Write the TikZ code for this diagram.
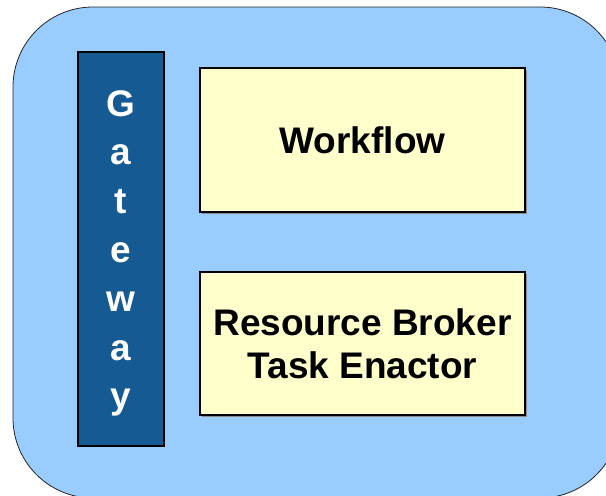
\documentclass[tikz,border=0pt]{standalone}
\usepackage{fontspec}
\setmainfont{Liberation Sans}
\definecolor{panelblue}{HTML}{99CCFF}
\definecolor{gateblue}{HTML}{155A93}
\definecolor{boxyellow}{HTML}{FFFFCC}
\begin{document}
\begin{tikzpicture}[x=1pt,y=-1pt,
  panel/.style={draw=black!85,line width=0.8pt,fill=panelblue,rounded corners=80pt},
  gatebox/.style={draw=black,line width=2pt,fill=gateblue,inner sep=0pt},
  gateletter/.style={text=white,font=\fontsize{37}{40}\selectfont\bfseries,anchor=base,inner sep=0pt},
  compbox/.style={draw=black,line width=2pt,fill=boxyellow,inner sep=0pt,
    font=\fontsize{37}{43}\selectfont\bfseries,align=center},
  boxshadow/.style={fill=black!45}
]
\useasboundingbox (0,0) rectangle (606,496);
% outer panel, partly running off the page
\draw[panel] (13,7) rectangle (620,498);

% gateway column
\node[gatebox,minimum width=86pt,minimum height=394pt] (gateway) at (121,249) {};
\foreach \ch [count=\i] in {G,a,t,e,w,a,y}{
  \node[gateletter] (gl\i) at (121,{116+(\i-1)*48.8}) {\ch};
}

% component boxes with a faint drop shadow
\fill[boxshadow] (202,70) rectangle (527,214);
\node[compbox,minimum width=325pt,minimum height=144pt] (workflow) at (362.5,140) {Workflow};
\fill[boxshadow] (202,274) rectangle (527,417);
\node[compbox,minimum width=325pt,minimum height=143pt] (broker) at (362.5,343.5) {Resource Broker\\Task Enactor};
\end{tikzpicture}
\end{document}
